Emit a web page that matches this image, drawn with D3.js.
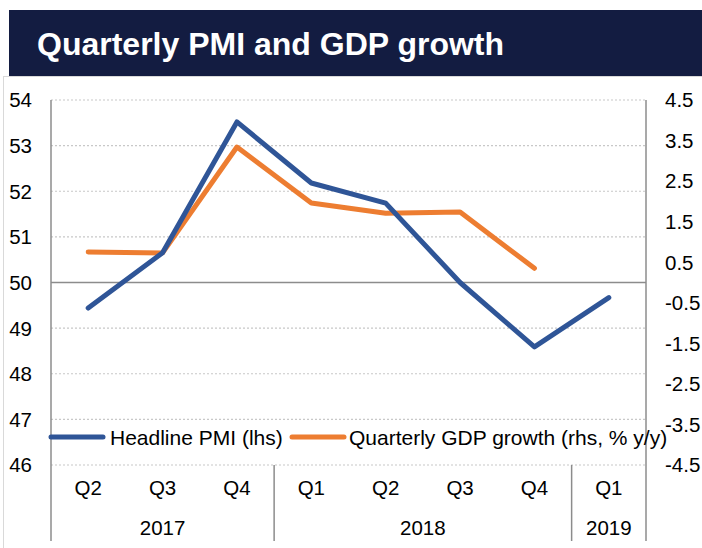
<!DOCTYPE html>
<html>
<head>
    <meta charset="utf-8">
    <title>Quarterly PMI and GDP growth</title>
    <!-- Load D3.js from a CDN -->
    <script src="https://d3js.org/d3.v7.min.js"></script>
    <style>
        body { margin: 0; background: #fff; }
        text { font-family: "Liberation Sans", Arial, sans-serif; }
    </style>
</head>
<body>
    <div id="chart"></div>

    <script>
        // Data
        const quarters = ["Q2", "Q3", "Q4", "Q1", "Q2", "Q3", "Q4", "Q1"];
        const years = ["2017", "2017", "2017", "2018", "2018", "2018", "2018", "2019"];
        const pmi = [49.44, 50.65, 53.52, 52.18, 51.74, 50.0, 48.59, 49.67];
        const gdp = [0.75, 0.73, 3.34, 1.96, 1.71, 1.74, 0.35, null];
        const leftTicks = [46, 47, 48, 49, 50, 51, 52, 53, 54];
        const rightTicks = [-4.5, -3.5, -2.5, -1.5, -0.5, 0.5, 1.5, 2.5, 3.5, 4.5];
        const seriesNames = ["Headline PMI (lhs)", "Quarterly GDP growth (rhs, % y/y)"];

        const W = 702, H = 548;
        const plot = { left: 51, right: 646, top: 100, bottom: 465 };

        const svg = d3.select("#chart")
          .append("svg")
            .attr("width", W)
            .attr("height", H)
            .style("display", "block");

        // light frame round the chart
        svg.append("rect")
          .attr("x", 3.5).attr("y", 76.5)
          .attr("width", W + 10).attr("height", H)
          .attr("fill", "none")
          .attr("stroke", "#d9d9d9");

        // title bar
        svg.append("rect")
          .attr("x", 9).attr("y", 10)
          .attr("width", W - 9).attr("height", 66)
          .attr("fill", "#131c41");
        svg.append("text")
          .attr("x", 37).attr("y", 55)
          .attr("fill", "#fff")
          .style("font-size", "32px")
          .style("font-weight", "bold")
          .text("Quarterly PMI and GDP growth");

        // scales
        const idx = d3.range(quarters.length);
        const x = d3.scaleBand()
          .domain(idx)
          .range([plot.left, plot.right])
          .padding(0);
        const cx = function(i) { return x(i) + x.bandwidth() / 2; };

        const yL = d3.scaleLinear().domain([46, 54]).range([plot.bottom, plot.top]);
        const yR = d3.scaleLinear().domain([-4.5, 4.5]).range([plot.bottom, plot.top]);

        // gridlines
        svg.append("g")
          .selectAll("line")
          .data(leftTicks)
          .enter()
          .append("line")
            .attr("x1", plot.left).attr("x2", plot.right)
            .attr("y1", function(d) { return yL(d); })
            .attr("y2", function(d) { return yL(d); })
            .attr("stroke", function(d) { return d === 50 ? "#8c8c8c" : "#c8c8c8"; })
            .attr("stroke-width", function(d) { return d === 50 ? 1.5 : 1.2; })
            .attr("stroke-dasharray", function(d) { return d === 50 ? null : "2,2"; });

        // left axis labels
        svg.append("g")
          .selectAll("text")
          .data(leftTicks)
          .enter()
          .append("text")
            .attr("x", 32)
            .attr("y", function(d) { return yL(d); })
            .attr("dy", "0.36em")
            .attr("text-anchor", "end")
            .style("font-size", "20.5px")
            .text(function(d) { return d; });

        // right axis labels (plain hyphen for the minus sign)
        svg.append("g")
          .selectAll("text")
          .data(rightTicks)
          .enter()
          .append("text")
            .attr("x", 665)
            .attr("y", function(d) { return yR(d); })
            .attr("dy", "0.36em")
            .attr("text-anchor", "start")
            .style("font-size", "20.5px")
            .text(function(d) { return d.toFixed(1); });

        // axis lines and category separators
        const axisColor = "#8c8c8c";
        [plot.left, plot.right].forEach(function(px) {
          svg.append("line")
            .attr("x1", px).attr("x2", px)
            .attr("y1", plot.top).attr("y2", 541)
            .attr("stroke", axisColor).attr("stroke-width", 1.5);
        });
        const yearStarts = idx.filter(function(i) { return i > 0 && years[i] !== years[i - 1]; });
        svg.append("g")
          .selectAll("line")
          .data(yearStarts)
          .enter()
          .append("line")
            .attr("x1", function(i) { return x(i); })
            .attr("x2", function(i) { return x(i); })
            .attr("y1", plot.bottom).attr("y2", 541)
            .attr("stroke", axisColor).attr("stroke-width", 1.5);

        // quarter labels
        svg.append("g")
          .selectAll("text")
          .data(idx)
          .enter()
          .append("text")
            .attr("x", function(i) { return cx(i); })
            .attr("y", 488)
            .attr("dy", "0.36em")
            .attr("text-anchor", "middle")
            .style("font-size", "20.5px")
            .text(function(i) { return quarters[i]; });

        // year labels, centred under their quarters
        const yearGroups = d3.groups(idx, function(i) { return years[i]; });
        svg.append("g")
          .selectAll("text")
          .data(yearGroups)
          .enter()
          .append("text")
            .attr("x", function(g) { return (x(g[1][0]) + x(g[1][g[1].length - 1]) + x.bandwidth()) / 2; })
            .attr("y", 528)
            .attr("dy", "0.36em")
            .attr("text-anchor", "middle")
            .style("font-size", "20.5px")
            .text(function(g) { return g[0]; });

        // lines
        const blue = "#2f5597", orange = "#ed7d31";
        const linePmi = d3.line()
          .x(function(d, i) { return cx(i); })
          .y(function(d) { return yL(d); });
        const lineGdp = d3.line()
          .defined(function(d) { return d !== null; })
          .x(function(d, i) { return cx(i); })
          .y(function(d) { return yR(d); });

        svg.append("path")
          .datum(gdp)
          .attr("d", lineGdp)
          .attr("fill", "none")
          .attr("stroke", orange)
          .attr("stroke-width", 5)
          .attr("stroke-linecap", "round")
          .attr("stroke-linejoin", "round");

        svg.append("path")
          .datum(pmi)
          .attr("d", linePmi)
          .attr("fill", "none")
          .attr("stroke", blue)
          .attr("stroke-width", 5)
          .attr("stroke-linecap", "round")
          .attr("stroke-linejoin", "round");

        // legend
        const legendItems = [
          { name: seriesNames[0], color: blue, x0: 51, x1: 103, tx: 110 },
          { name: seriesNames[1], color: orange, x0: 292, x1: 344, tx: 349 }
        ];
        const legend = svg.selectAll(".legend")
          .data(legendItems)
          .enter().append("g")
            .attr("class", "legend");
        legend.append("line")
          .attr("x1", function(d) { return d.x0; })
          .attr("x2", function(d) { return d.x1; })
          .attr("y1", 437).attr("y2", 437)
          .attr("stroke", function(d) { return d.color; })
          .attr("stroke-width", 5)
          .attr("stroke-linecap", "round");
        legend.append("text")
          .attr("x", function(d) { return d.tx; })
          .attr("y", 437)
          .attr("dy", "0.36em")
          .style("font-size", "21px")
          .text(function(d) { return d.name; });
    </script>
</body>
</html>
